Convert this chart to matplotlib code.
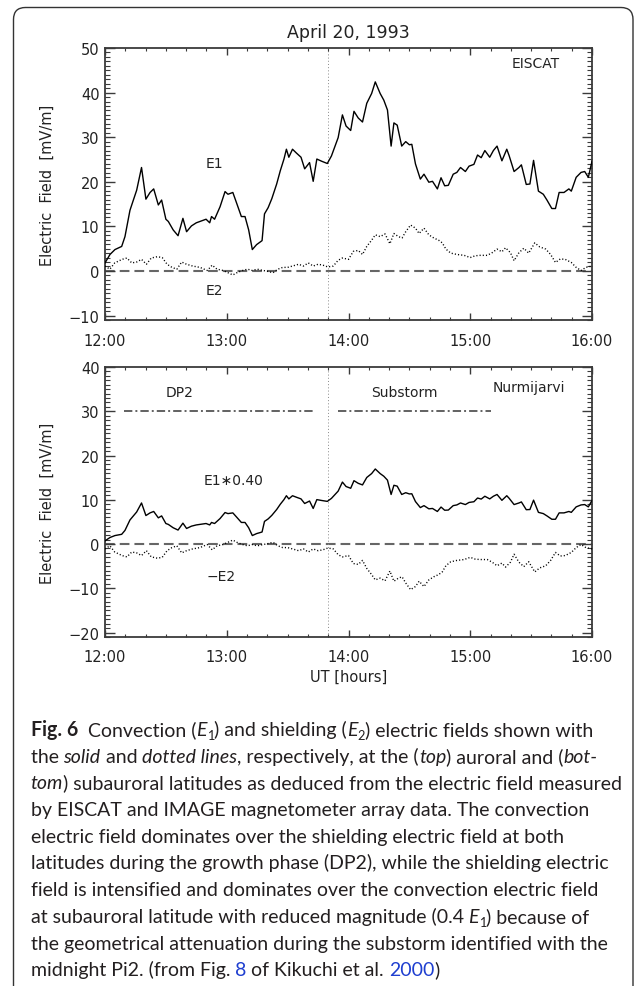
import matplotlib
matplotlib.use("Agg")
from matplotlib import pyplot as plt
from matplotlib.path import Path
from matplotlib.patches import PathPatch
from matplotlib.transforms import IdentityTransform
from matplotlib.ticker import MultipleLocator
from matplotlib.font_manager import FontProperties

plt.rcParams['font.family'] = ['DejaVu Sans']
plt.rcParams['lines.scale_dashes'] = False

# time axis in UT hours
hour_ticks = [12, 13, 14, 15, 16]
hour_labels = ["12:00", "13:00", "14:00", "15:00", "16:00"]
onset_time = 13.83

# convection field E1 (EISCAT), mV/m
e1_time = [12.000, 12.041, 12.082, 12.137, 12.164, 12.205, 12.233, 12.260, 12.300, 12.336,
           12.370, 12.400, 12.438, 12.465, 12.500, 12.520, 12.560, 12.600, 12.640, 12.670,
           12.710, 12.750, 12.790, 12.830, 12.860, 12.875, 12.900, 12.945, 12.986, 13.010,
           13.050, 13.080, 13.120, 13.150, 13.180, 13.210, 13.245, 13.290, 13.310, 13.340,
           13.370, 13.410, 13.440, 13.470, 13.490, 13.510, 13.540, 13.570, 13.610, 13.640,
           13.680, 13.710, 13.740, 13.780, 13.826, 13.860, 13.915, 13.950, 13.980, 14.018,
           14.045, 14.080, 14.115, 14.150, 14.190, 14.220, 14.260, 14.290, 14.320, 14.350,
           14.373, 14.400, 14.437, 14.470, 14.500, 14.520, 14.550, 14.590, 14.620, 14.660,
           14.690, 14.730, 14.760, 14.790, 14.820, 14.860, 14.890, 14.920, 14.960, 14.990,
           15.030, 15.060, 15.090, 15.120, 15.160, 15.190, 15.220, 15.260, 15.300, 15.320,
           15.360, 15.400, 15.420, 15.460, 15.490, 15.520, 15.560, 15.600, 15.630, 15.670,
           15.700, 15.730, 15.770, 15.810, 15.830, 15.870, 15.910, 15.940, 15.970, 16.000]
e1_vals = [1.8, 3.7, 4.8, 5.5, 7.7, 13.6, 15.9, 18.1, 23.2, 16.1,
           17.6, 18.4, 14.8, 15.9, 11.6, 11.1, 9.2, 7.9, 11.8, 8.8,
           10.1, 10.8, 11.2, 11.6, 10.8, 12.2, 11.6, 14.4, 17.8, 17.2,
           17.6, 15.3, 12.2, 12.2, 9.2, 4.8, 5.9, 6.8, 12.8, 14.2,
           16.2, 19.5, 22.5, 25.1, 27.3, 25.5, 27.3, 26.5, 25.5, 22.9,
           24.3, 20.1, 25.1, 24.6, 24.1, 25.8, 29.9, 35.0, 32.5, 31.5,
           35.8, 34.3, 33.4, 37.6, 39.8, 42.4, 39.8, 38.3, 36.1, 28.0,
           33.2, 32.7, 28.0, 29.0, 28.3, 28.4, 24.0, 20.6, 21.7, 19.9,
           20.1, 18.4, 20.9, 19.1, 19.2, 21.7, 22.1, 23.2, 22.3, 23.5,
           23.9, 26.0, 25.4, 27.0, 25.5, 27.0, 28.0, 24.7, 27.3, 25.8,
           22.3, 23.2, 23.8, 19.4, 19.5, 24.8, 17.9, 17.2, 15.9, 14.0,
           14.0, 17.6, 17.6, 18.4, 17.9, 21.0, 22.1, 22.3, 21.0, 24.6]

# shielding field E2, mV/m
e2_time = [12.00, 12.04, 12.08, 12.14, 12.18, 12.22, 12.26, 12.30, 12.34, 12.38,
           12.43, 12.47, 12.51, 12.55, 12.59, 12.63, 12.67, 12.72, 12.78, 12.84,
           12.88, 12.92, 12.97, 13.01, 13.05, 13.09, 13.13, 13.17, 13.21, 13.25,
           13.30, 13.34, 13.38, 13.42, 13.46, 13.50, 13.54, 13.59, 13.63, 13.67,
           13.71, 13.75, 13.79, 13.83, 13.875, 13.915, 13.95, 14.00, 14.04, 14.08,
           14.115, 14.15, 14.19, 14.22, 14.26, 14.30, 14.34, 14.373, 14.41, 14.44,
           14.47, 14.51, 14.55, 14.58, 14.62, 14.66, 14.70, 14.74, 14.77, 14.80,
           14.84, 14.89, 14.95, 15.00, 15.04, 15.08, 15.14, 15.18, 15.22, 15.26,
           15.29, 15.33, 15.36, 15.40, 15.44, 15.48, 15.53, 15.57, 15.62, 15.66,
           15.70, 15.74, 15.78, 15.83, 15.87, 15.91, 15.95, 16.00]
e2_vals = [1.1, 0.4, 1.8, 2.6, 2.9, 1.8, 2.0, 2.6, 1.5, 2.9,
           3.2, 3.0, 1.5, 0.8, 0.4, 2.0, 1.5, 1.1, 0.8, 0.1,
           1.3, 0.4, 0.1, -0.4, -0.9, -0.3, 0.1, 0.4, 0.1, 0.4,
           0.1, -0.1, -0.4, 0.4, 0.8, 0.8, 1.1, 1.5, 1.1, 1.8,
           1.1, 1.5, 1.3, 0.9, 1.1, 2.4, 2.9, 2.6, 4.4, 4.6,
           3.7, 5.5, 6.9, 8.1, 7.7, 8.3, 6.1, 8.4, 7.7, 7.4,
           8.8, 10.3, 9.6, 8.4, 9.6, 8.1, 7.4, 6.9, 6.3, 4.9,
           4.0, 3.7, 3.5, 3.0, 3.4, 3.5, 3.5, 4.1, 4.9, 4.3,
           5.2, 4.1, 2.3, 4.1, 5.1, 4.0, 6.3, 5.4, 4.9, 3.7,
           1.9, 2.7, 2.6, 1.9, 0.8, 0.1, 0.8, 1.1]

# scaling of E1 at the subauroral station
e1_scale = 0.40

# DP2 / substorm intervals in the lower panel
phase_names = ["DP2", "Substorm"]
phase_start = [12.16, 13.91]
phase_end = [13.72, 15.17]
phase_label_x = [12.61, 14.46]
phase_level = 30

caption_lines = [
    [("Fig. 6", "bold"), ("  Convection (", "n"), ("E", "it"), ("1", "sub"),
     (") and shielding (", "n"), ("E", "it"), ("2", "sub"), (") electric fields shown with", "n")],
    [("the ", "n"), ("solid", "it"), (" and ", "n"), ("dotted lines", "it"),
     (", respectively, at the (", "n"), ("top", "it"), (") auroral and (", "n"), ("bot-", "it")],
    [("tom", "it"), (") subauroral latitudes as deduced from the electric field measured", "n")],
    [("by EISCAT and IMAGE magnetometer array data. The convection", "n")],
    [("electric field dominates over the shielding electric field at both", "n")],
    [("latitudes during the growth phase (DP2), while the shielding electric", "n")],
    [("field is intensified and dominates over the convection electric field", "n")],
    [("at subauroral latitude with reduced magnitude (0.4 ", "n"), ("E", "it"), ("1", "sub"),
     (") because of", "n")],
    [("the geometrical attenuation during the substorm identified with the", "n")],
    [("midnight Pi2. (from Fig. ", "n"), ("8", "link"), (" of Kikuchi et al. ", "n"),
     ("2000", "link"), (")", "n")],
]

W, H = 636, 987
AX_COLOR = '#3a3a3a'
TXT_COLOR = '#222222'

fig = plt.figure(figsize=(W / 100, H / 100), dpi=100)


def px_rect(left, top, right, bottom):
    return [left / W, 1 - bottom / H, (right - left) / W, (bottom - top) / H]


def style_axes(ax, ylow, yhigh):
    ax.set_xlim(12, 16)
    ax.set_ylim(ylow, yhigh)
    ax.set_xticks(hour_ticks)
    ax.set_xticklabels(hour_labels)
    ax.xaxis.set_minor_locator(MultipleLocator(1 / 6))
    ax.yaxis.set_major_locator(MultipleLocator(10))
    ax.yaxis.set_minor_locator(MultipleLocator(1))
    ax.tick_params(which='both', direction='in', top=True, right=True,
                   color=AX_COLOR, labelcolor=TXT_COLOR, labelsize=10.5)
    ax.tick_params(axis='y', which='major', length=7, width=1, pad=4)
    ax.tick_params(axis='y', which='minor', length=3.6, width=0.8)
    ax.tick_params(axis='x', which='major', length=5, width=1, pad=9)
    ax.tick_params(axis='x', which='minor', length=2.4, width=0.8)
    for sp in ax.spines.values():
        sp.set_color(AX_COLOR)
        sp.set_linewidth(1.3)
    ax.set_ylabel("Electric  Field  [mV/m]", fontsize=10.5, color=TXT_COLOR, labelpad=10)
    ax.axhline(0, color='#666666', lw=1.5, linestyle=(0, (7, 3.6)), zorder=1)
    ax.axvline(onset_time, color='#888888', lw=0.7, linestyle=(0, (0.7, 1.6)), zorder=1)


# top panel: EISCAT
ax1 = fig.add_axes(px_rect(105, 49, 592, 321))
style_axes(ax1, -11, 50)
ax1.plot(e1_time, e1_vals, color='black', lw=1.0, zorder=3)
ax1.plot(e2_time, e2_vals, color='black', lw=1.0, linestyle=(0, (0.8, 1.5)), zorder=3)
ax1.text(15.54, 46.6, "EISCAT", fontsize=10, color=TXT_COLOR, ha='center', va='center')
ax1.text(12.9, 24.3, "E1", fontsize=10, color=TXT_COLOR, ha='center', va='center')
ax1.text(12.9, -4.3, "E2", fontsize=10, color=TXT_COLOR, ha='center', va='center')
ax1.set_title("April 20, 1993", fontsize=12.5, color=TXT_COLOR, pad=8)

# bottom panel: Nurmijarvi
ax2 = fig.add_axes(px_rect(105, 368, 592, 638))
style_axes(ax2, -21, 40)
ax2.plot(e1_time, [v * e1_scale for v in e1_vals], color='black', lw=1.0, zorder=3)
ax2.plot(e2_time, [-v for v in e2_vals], color='black', lw=1.0,
         linestyle=(0, (0.8, 1.5)), zorder=3)
for name, t0, t1, tx in zip(phase_names, phase_start, phase_end, phase_label_x):
    ax2.plot([t0, t1], [phase_level, phase_level], color='#555555', lw=1.3,
             linestyle=(0, (6, 2.2, 1.4, 2.2)))
    ax2.text(tx, 34.3, name, fontsize=10, color=TXT_COLOR, ha='center', va='center')
ax2.text(15.48, 35.4, "Nurmijarvi", fontsize=10, color=TXT_COLOR, ha='center', va='center')
ax2.text(13.06, 14.4, "E1\u22170.40", fontsize=10, color=TXT_COLOR, ha='center', va='center')
ax2.text(12.95, -7.3, "\u2212E2", fontsize=10, color=TXT_COLOR, ha='center', va='center')
ax2.set_xlabel("UT [hours]", fontsize=10.5, color=TXT_COLOR, labelpad=3)

# rounded frame around the figure (pixel coords, y flipped)
r = 12
x0, x1, ytop = 13.5, 633.0, 8.5
verts = [(x0, -5), (x0, H - ytop - r), (x0, H - ytop), (x0 + r, H - ytop),
         (x1 - r, H - ytop), (x1, H - ytop), (x1, H - ytop - r), (x1, -5)]
codes = [Path.MOVETO, Path.LINETO, Path.CURVE3, Path.CURVE3,
         Path.LINETO, Path.CURVE3, Path.CURVE3, Path.LINETO]
fig.add_artist(PathPatch(Path(verts, codes), transform=IdentityTransform(),
                         fill=False, edgecolor='#333333', lw=1.0))

# caption, drawn piece by piece
renderer = fig.canvas.get_renderer()
cap_family = ['Lato', 'DejaVu Sans']


def make_prop(kind, fs):
    if kind == "bold":
        return FontProperties(family=cap_family, weight='bold', size=fs)
    if kind == "it":
        return FontProperties(family=cap_family, style='italic', size=fs)
    if kind == "sub":
        return FontProperties(family=cap_family, size=fs * 0.65)
    return FontProperties(family=cap_family, size=fs)


def seg_width(s, fp):
    w1, _, _ = renderer.get_text_width_height_descent("|" + s + "|", fp, ismath=False)
    w0, _, _ = renderer.get_text_width_height_descent("||", fp, ismath=False)
    return w1 - w0


def line_width(segs, fs):
    return sum(seg_width(s, make_prop(k, fs)) for s, k in segs)


cap_left = 30.5
cap_fs = 12.0 * 591.0 / line_width(caption_lines[2], 12.0)
base_y = 736.0
line_step = 26.7
for i, segs in enumerate(caption_lines):
    x = cap_left
    y = base_y + i * line_step
    for s, k in segs:
        fp = make_prop(k, cap_fs)
        col = '#1f3fd0' if k == "link" else '#231f20'
        dy = 4.0 if k == "sub" else 0.0
        fig.text(x / W, 1 - (y + dy) / H, s, fontproperties=fp, color=col,
                 ha='left', va='baseline')
        x += seg_width(s, fp)

fig.savefig("out.png", dpi=100)
